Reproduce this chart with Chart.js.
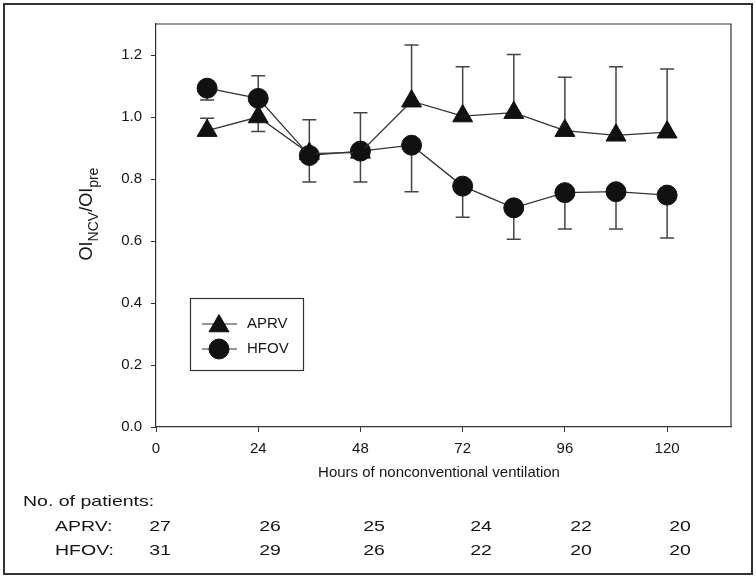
<!DOCTYPE html>
<html>
<head>
<meta charset="utf-8">
<script src="https://cdn.jsdelivr.net/npm/chart.js@4"></script>
<style>
  body { margin: 0; background: #fff; }
  canvas { display: block; }
</style>
</head>
<body>
<canvas id="oiChart" width="756" height="578"></canvas>
<script>
const hours = [12, 24, 36, 48, 60, 72, 84, 96, 108, 120];
const aprv = [0.956, 1.0, 0.882, 0.886, 1.051, 1.003, 1.014, 0.956, 0.941, 0.951];
const hfov = [1.093, 1.06, 0.876, 0.89, 0.909, 0.777, 0.707, 0.756, 0.759, 0.748];
// end of the one-sided error bar for each point
const aprvErrEnd = [0.996, 0.953, 0.991, 1.014, 1.232, 1.162, 1.202, 1.128, 1.162, 1.155];
const hfovErrEnd = [1.055, 1.133, 0.79, 0.79, 0.759, 0.677, 0.606, 0.639, 0.639, 0.61];

const xTicks = [0, 24, 48, 72, 96, 120];
const yTicks = [0, 0.2, 0.4, 0.6, 0.8, 1.0, 1.2];

const aprvN = [27, 26, 25, 24, 22, 20];
const hfovN = [31, 29, 26, 22, 20, 20];

const FONT = '"Liberation Sans", Arial, sans-serif';
const INK = '#151515';
const nColX = [160, 270, 374, 481, 581, 680];

Chart.defaults.font.family = FONT;
Chart.defaults.color = INK;

const pts = vals => hours.map((h, i) => ({ x: h, y: vals[i] }));

const errorBars = {
  id: 'errorBars',
  beforeDatasetsDraw(chart) {
    const { ctx, scales: { x, y } } = chart;
    ctx.save();
    ctx.strokeStyle = '#444';
    ctx.lineWidth = 1.5;
    [[aprv, aprvErrEnd], [hfov, hfovErrEnd]].forEach(([vals, ends]) => {
      hours.forEach((h, i) => {
        const px = x.getPixelForValue(h);
        const p0 = y.getPixelForValue(vals[i]);
        const p1 = y.getPixelForValue(ends[i]);
        ctx.beginPath();
        ctx.moveTo(px, p0);
        ctx.lineTo(px, p1);
        ctx.moveTo(px - 7, p1);
        ctx.lineTo(px + 7, p1);
        ctx.stroke();
      });
    });
    // top and right sides of the frame
    const a = chart.chartArea;
    ctx.strokeStyle = '#333';
    ctx.lineWidth = 1.2;
    ctx.beginPath();
    ctx.moveTo(a.left, a.top);
    ctx.lineTo(a.right, a.top);
    ctx.lineTo(a.right, a.bottom);
    ctx.stroke();
    ctx.restore();
  }
};

const extras = {
  id: 'extras',
  beforeDraw(chart) {
    const ctx = chart.ctx;
    ctx.save();
    ctx.fillStyle = '#fff';
    ctx.fillRect(0, 0, chart.width, chart.height);
    ctx.restore();
  },
  afterDraw(chart) {
    const ctx = chart.ctx;
    ctx.save();
    ctx.fillStyle = INK;

    // x title
    ctx.font = '15px ' + FONT;
    ctx.textAlign = 'center';
    ctx.textBaseline = 'middle';
    ctx.fillText('Hours of nonconventional ventilation', 439, 473);

    // y title with subscripts
    ctx.save();
    ctx.translate(92, 214);
    ctx.rotate(-Math.PI / 2);
    const parts = [['OI', 18, 0], ['NCV', 14, 6], ['/OI', 18, 0], ['pre', 14, 6]];
    let total = 0;
    parts.forEach(([t, s]) => { ctx.font = s + 'px ' + FONT; total += ctx.measureText(t).width; });
    let cx = -total / 2;
    ctx.textAlign = 'left';
    ctx.textBaseline = 'alphabetic';
    parts.forEach(([t, s, dy]) => {
      ctx.font = s + 'px ' + FONT;
      ctx.fillText(t, cx, dy);
      cx += ctx.measureText(t).width;
    });
    ctx.restore();

    // patients table (slightly stretched like the original)
    const stretch = (txt, x, y, align) => {
      ctx.save();
      ctx.translate(x, y);
      ctx.scale(1.3, 1);
      ctx.textAlign = align;
      ctx.fillText(txt, 0, 0);
      ctx.restore();
    };
    ctx.font = '15px ' + FONT;
    ctx.textBaseline = 'alphabetic';
    stretch('No. of patients:', 23, 506, 'left');
    stretch('APRV:', 55, 531, 'left');
    stretch('HFOV:', 55, 555, 'left');
    aprvN.forEach((n, i) => stretch(String(n), nColX[i], 531, 'center'));
    hfovN.forEach((n, i) => stretch(String(n), nColX[i], 555, 'center'));

    // legend
    ctx.strokeStyle = '#333';
    ctx.lineWidth = 1.2;
    ctx.strokeRect(190.5, 298.5, 113, 72);
    const entries = [
      ['APRV', 'triangle', 11.5, 324],
      ['HFOV', 'circle', 10, 349]
    ];
    entries.forEach(([label, style, r, yy]) => {
      ctx.strokeStyle = '#333';
      ctx.lineWidth = 1.2;
      ctx.beginPath();
      ctx.moveTo(202, yy);
      ctx.lineTo(237, yy);
      ctx.stroke();
      ctx.fillStyle = '#111';
      ctx.strokeStyle = '#111';
      ctx.lineWidth = 1;
      Chart.helpers.drawPoint(ctx, { pointStyle: style, radius: r, rotation: 0, borderWidth: 1 },
        219, style === 'triangle' ? yy + 2 : yy);
      ctx.fillStyle = INK;
      ctx.font = '15px ' + FONT;
      ctx.textAlign = 'left';
      ctx.textBaseline = 'middle';
      ctx.fillText(label, 247, yy);
    });

    // outer border
    ctx.strokeStyle = '#333';
    ctx.lineWidth = 2;
    ctx.strokeRect(4, 4, 748, 570);
    ctx.restore();
  }
};

new Chart(document.getElementById('oiChart'), {
  type: 'line',
  data: {
    datasets: [
      {
        label: 'APRV',
        data: pts(aprv),
        borderColor: '#333',
        borderWidth: 1.3,
        pointStyle: 'triangle',
        pointRadius: 11.5,
        pointBackgroundColor: '#111',
        pointBorderColor: '#111',
        pointBorderWidth: 1,
        tension: 0
      },
      {
        label: 'HFOV',
        data: pts(hfov),
        borderColor: '#333',
        borderWidth: 1.3,
        pointStyle: 'circle',
        pointRadius: 10,
        pointBackgroundColor: '#111',
        pointBorderColor: '#111',
        pointBorderWidth: 1,
        tension: 0
      }
    ]
  },
  options: {
    responsive: false,
    animation: false,
    devicePixelRatio: 1,
    layout: { padding: { left: 0, top: 24, right: 25, bottom: 0 } },
    plugins: {
      legend: { display: false },
      tooltip: { enabled: false }
    },
    scales: {
      x: {
        type: 'linear',
        min: 0,
        max: 135,
        afterBuildTicks: s => { s.ticks = xTicks.map(v => ({ value: v })); },
        afterFit: s => { s.height = 151; },
        grid: { drawOnChartArea: false, drawTicks: true, tickLength: 5, color: '#333' },
        border: { display: true, color: '#333', width: 1.2 },
        ticks: { padding: 8, font: { size: 15 }, color: INK, maxRotation: 0 }
      },
      y: {
        type: 'linear',
        min: 0,
        max: 1.3,
        afterBuildTicks: s => { s.ticks = yTicks.map(v => ({ value: v })); },
        afterFit: s => { s.width = 156; },
        grid: { drawOnChartArea: false, drawTicks: true, tickLength: 5, color: '#333' },
        border: { display: true, color: '#333', width: 1.2 },
        ticks: { padding: 9, font: { size: 15 }, color: INK, callback: v => v.toFixed(1) }
      }
    }
  },
  plugins: [errorBars, extras]
});
</script>
</body>
</html>
